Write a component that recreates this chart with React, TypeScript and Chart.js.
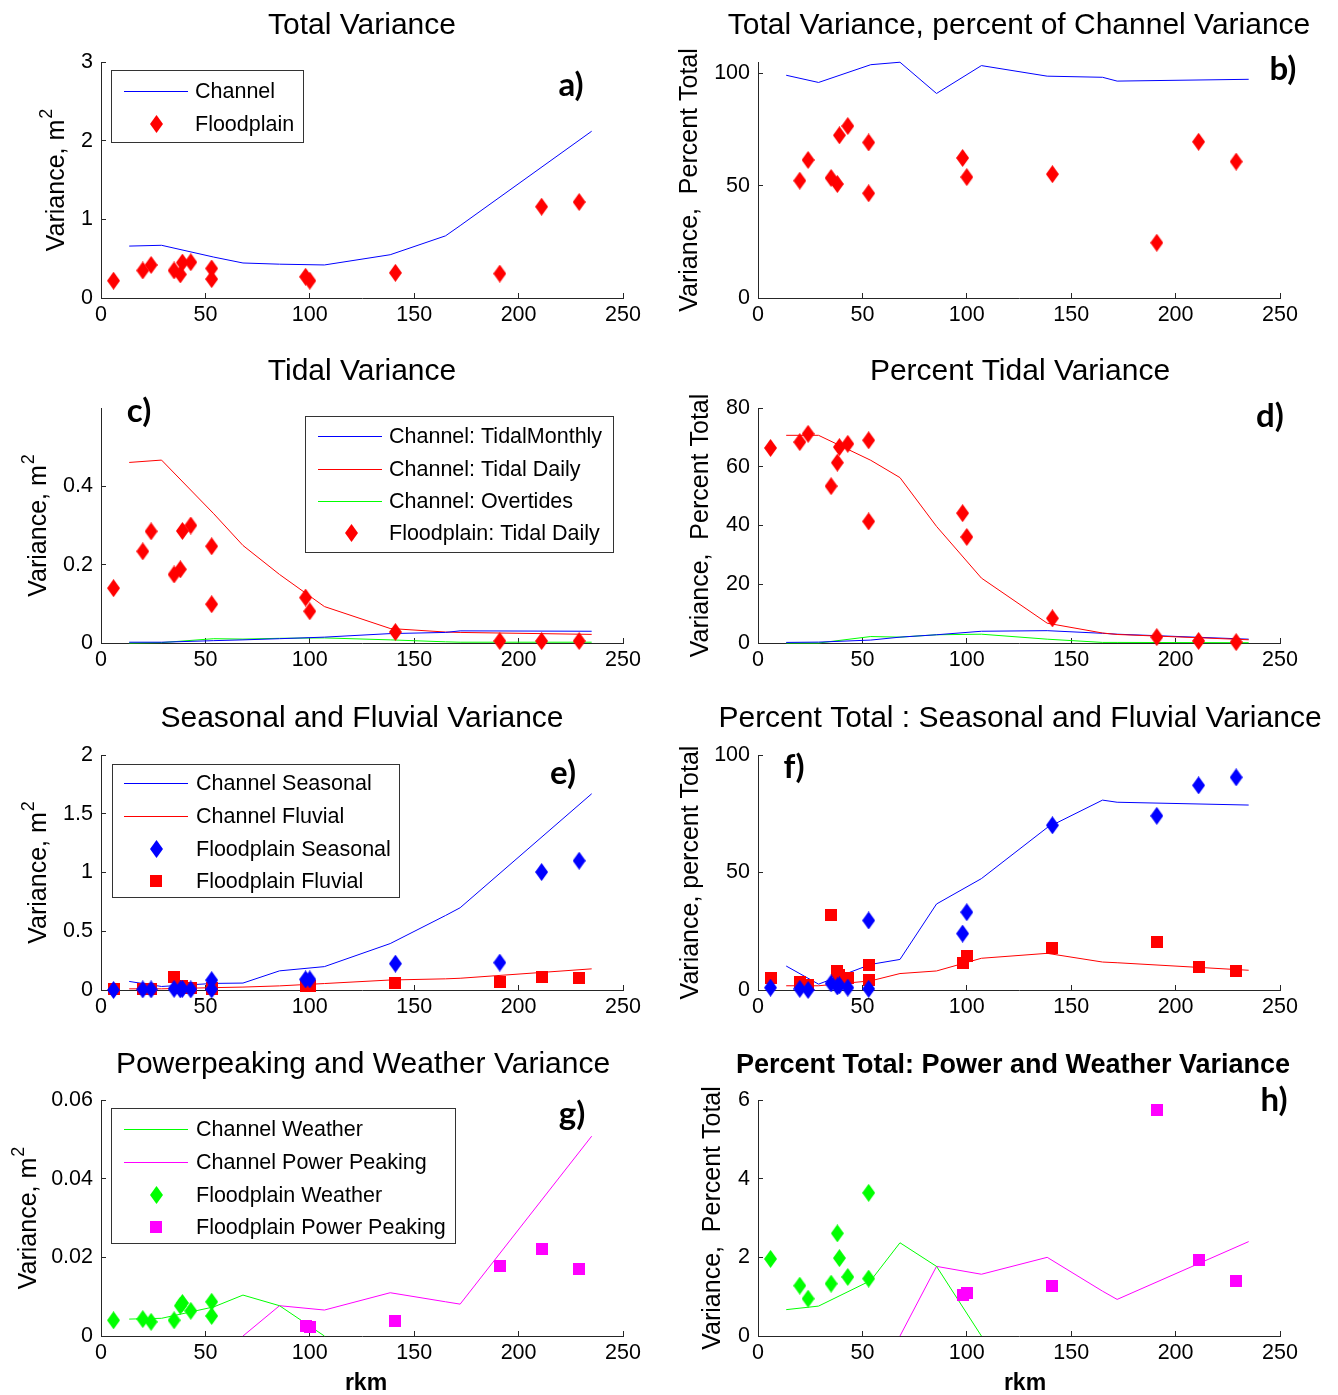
import React, { useEffect, useRef } from 'react';
import { Chart, registerables } from 'chart.js';

Chart.register(...registerables);

// ---------- shared axes ----------
const CH_RKM = [13.5, 29, 54, 68, 85.5, 107, 138.5, 165, 172, 235];
const FP_RKM = [6, 20, 24, 35, 38, 39, 43, 53, 53, 98, 100, 141, 191, 211, 229];
const X_TICKS = [0, 50, 100, 150, 200, 250];

// ---------- a) Total variance ----------
const A_CHANNEL = [0.66, 0.67, 0.52, 0.445, 0.43, 0.42, 0.55, 0.79, 0.92, 2.12];
const A_FLOOD = [0.22, 0.35, 0.42, 0.35, 0.3, 0.45, 0.455, 0.375, 0.24, 0.27, 0.22, 0.32, 0.31, 1.16, 1.22];
const A_Y_TICKS = [0, 1, 2, 3];

// ---------- b) Total variance, percent of channel ----------
const B_CHANNEL = [99.1, 95.9, 103.8, 104.9, 91.0, 103.4, 98.7, 98.2, 96.5, 97.3];
const B_FLOOD = [null, 52.2, 61.4, 53.4, 50.7, 72.4, 76.5, 69.2, 46.6, 62.3, 53.8, 55.1, 24.6, 69.5, 60.7];
const B_Y_TICKS = [0, 50, 100];

// ---------- c) Tidal variance ----------
const C_MONTHLY = [0.002, 0.002, 0.006, 0.008, 0.011, 0.015, 0.024, 0.027, 0.031, 0.03];
const C_DAILY = [0.461, 0.467, 0.33, 0.249, 0.175, 0.093, 0.037, 0.028, 0.027, 0.022];
const C_OVERTIDES = [0.0, 0.001, 0.011, 0.01, 0.012, 0.013, 0.008, 0.003, 0.002, 0.002];
const C_FLOOD = [0.14, 0.234, 0.285, 0.175, 0.188, 0.286, 0.3, 0.247, 0.099, 0.116, 0.081, 0.028, 0.005, 0.005, 0.005];
const C_Y_TICKS = [0, 0.2, 0.4];

// ---------- d) Percent tidal variance ----------
const D_MONTHLY = [0.2, 0.3, 1.0, 2.0, 2.8, 4.0, 4.2, 3.3, 3.0, 1.3];
const D_DAILY = [70.7, 70.7, 62.2, 56.3, 39.7, 22.1, 6.75, 3.4, 2.9, 1.1];
const D_OVERTIDES = [0, 0, 2.2, 2.0, 2.8, 3.0, 1.3, 0.2, 0.2, 0.1];
const D_FLOOD = [66.4, 68.4, 71.2, 53.4, 61.4, 66.7, 67.8, 69.0, 41.4, 44.2, 36.1, 8.4, 2.0, 0.7, 0.3];
const D_Y_TICKS = [0, 20, 40, 60, 80];

// ---------- e) Seasonal and fluvial variance ----------
const E_SEASONAL = [0.073, 0.03, 0.056, 0.059, 0.163, 0.199, 0.395, 0.634, 0.7, 1.67];
const E_FLUVIAL = [0.01, 0.01, 0.02, 0.025, 0.035, 0.055, 0.085, 0.095, 0.1, 0.18];
const E_FP_SEASONAL = [0.0, 0.005, 0.005, 0.01, 0.005, 0.01, 0.005, 0.084, 0.005, 0.09, 0.09, 0.224, 0.233, 1.004, 1.1];
const E_FP_FLUVIAL = [0.01, 0.01, 0.01, 0.107, 0.02, 0.03, 0.02, 0.02, 0.01, 0.03, 0.03, 0.059, 0.065, 0.112, 0.1];
const E_Y_TICKS = [0, 0.5, 1, 1.5, 2];

// ---------- f) Percent total: seasonal and fluvial ----------
const F_SEASONAL = [10.2, 2.5, 10.9, 13.0, 36.6, 47.4, 69.1, 80.8, 79.9, 78.7];
const F_FLUVIAL = [1.8, 1.8, 3.9, 7.0, 8.1, 13.5, 15.6, 11.9, 11.6, 8.4];
const F_FP_SEASONAL = [1.0, 0.5, 0.0, 2.8, 1.5, 2.0, 1.0, 29.6, 0.5, 24.0, 33.1, 70.1, 74.1, 87.1, 90.5];
const F_FP_FLUVIAL = [5.0, 3.6, 2.2, 31.8, 8.1, 6.5, 5.0, 10.7, 4.2, 11.6, 14.4, 17.7, 20.5, 9.8, 8.1];
const F_Y_TICKS = [0, 50, 100];

// ---------- g) Powerpeaking and weather variance ----------
const G_WEATHER = [0.0043, 0.0045, 0.0074, 0.0104, 0.0077, 0.0, null, null, null, null];
const G_POWER = [null, null, null, 0.0, 0.0077, 0.0066, 0.011, 0.0087, 0.0081, 0.0508];
const G_FP_WEATHER = [0.004, 0.0043, 0.0036, 0.004, 0.0077, 0.0084, 0.0064, 0.0087, 0.0051, null, null, null, null, null, null];
const G_FP_POWER = [null, null, null, null, null, null, null, null, null, 0.0025, 0.0024, 0.0038, 0.0177, 0.0221, 0.0171];
const G_Y_TICKS = [0, 0.02, 0.04, 0.06];

// ---------- h) Percent total: power and weather ----------
const H_WEATHER = [0.67, 0.76, 1.41, 2.37, 1.77, 0.0, null, null, null, null];
const H_POWER = [null, null, null, 0.0, 1.77, 1.57, 2.0, 1.14, 0.93, 2.4];
const H_FP_WEATHER = [1.96, 1.28, 0.95, 1.33, 2.61, 1.98, 1.5, 3.64, 1.46, null, null, null, null, null, null];
const H_FP_POWER = [null, null, null, null, null, null, null, null, null, 1.03, 1.09, 1.26, 5.74, 1.94, 1.41];
const H_Y_TICKS = [0, 2, 4, 6];

const BLUE = '#0000ff';
const RED = '#ff0000';
const GREEN = '#00ff00';
const MAGENTA = '#ff00ff';
const AXIS = '#262626';
const FONT = "'Liberation Sans', Arial, Helvetica, sans-serif";
const LETTER_FONT = "Lato, 'Open Sans', 'Liberation Sans', sans-serif";

type Shape = 'diamond' | 'square';
interface Series {
  kind: 'line' | 'marker';
  x: number[];
  y: (number | null)[];
  color: string;
  shape?: Shape;
  label: string;
}
interface Legend {
  box: [number, number, number, number];
  rows: number[];
  lineX: [number, number];
  markerX: number;
  textX: number;
}
interface Panel {
  box: [number, number, number, number];
  area: [number, number, number, number];
  yMax: number;
  yTicks: number[];
  title: string;
  titleX: number;
  titleY: number;
  titleBold?: boolean;
  letter: string;
  letterPos: [number, number];
  yLabel: string;
  ySup?: string;
  yLabelX: number;
  xLabel?: string;
  xLabelPos?: [number, number];
  legend?: Legend;
  series: Series[];
}

const line = (x: number[], y: (number | null)[], color: string, label = ''): Series => ({ kind: 'line', x, y, color, label });
const mark = (x: number[], y: (number | null)[], color: string, shape: Shape, label = ''): Series => ({ kind: 'marker', x, y, color, shape, label });

const LEFT_X = 0, RIGHT_X = 669, COL_W = 669;
const ROWS: [number, number][] = [[0, 345], [345, 347], [692, 348], [1040, 355]];

const PANELS: Panel[] = [
  {
    box: [LEFT_X, ROWS[0][0], COL_W, ROWS[0][1]], area: [101, 62, 623, 298], yMax: 3, yTicks: A_Y_TICKS,
    title: 'Total Variance', titleX: 362, titleY: 26, letter: 'a)', letterPos: [571, 85],
    yLabel: 'Variance, m', ySup: '2', yLabelX: 57,
    legend: { box: [111, 70, 303, 142], rows: [91, 124], lineX: [124, 188], markerX: 156, textX: 195 },
    series: [line(CH_RKM, A_CHANNEL, BLUE, 'Channel'), mark(FP_RKM, A_FLOOD, RED, 'diamond', 'Floodplain')],
  },
  {
    box: [RIGHT_X, ROWS[0][0], COL_W, ROWS[0][1]], area: [758, 62, 1280, 298], yMax: 105, yTicks: B_Y_TICKS,
    title: 'Total Variance, percent of Channel Variance', titleX: 1019, titleY: 26, letter: 'b)', letterPos: [1283, 69],
    yLabel: 'Variance,  Percent Total', yLabelX: 690,
    series: [line(CH_RKM, B_CHANNEL, BLUE), mark(FP_RKM, B_FLOOD, RED, 'diamond')],
  },
  {
    box: [LEFT_X, ROWS[1][0], COL_W, ROWS[1][1]], area: [101, 408, 623, 643], yMax: 0.6, yTicks: C_Y_TICKS,
    title: 'Tidal Variance', titleX: 362, titleY: 372, letter: 'c)', letterPos: [139, 411],
    yLabel: 'Variance, m', ySup: '2', yLabelX: 39,
    legend: { box: [305, 416, 613, 552], rows: [436, 469, 501, 533], lineX: [318, 382], markerX: 351, textX: 389 },
    series: [
      line(CH_RKM, C_MONTHLY, BLUE, 'Channel: TidalMonthly'),
      line(CH_RKM, C_DAILY, RED, 'Channel: Tidal Daily'),
      line(CH_RKM, C_OVERTIDES, GREEN, 'Channel: Overtides'),
      mark(FP_RKM, C_FLOOD, RED, 'diamond', 'Floodplain: Tidal Daily'),
    ],
  },
  {
    box: [RIGHT_X, ROWS[1][0], COL_W, ROWS[1][1]], area: [758, 408, 1280, 643], yMax: 80, yTicks: D_Y_TICKS,
    title: 'Percent Tidal Variance', titleX: 1020, titleY: 372, letter: 'd)', letterPos: [1270, 416],
    yLabel: 'Variance,  Percent Total', yLabelX: 701,
    series: [
      line(CH_RKM, D_DAILY, RED),
      line(CH_RKM, D_MONTHLY, BLUE),
      line(CH_RKM, D_OVERTIDES, GREEN),
      mark(FP_RKM, D_FLOOD, RED, 'diamond'),
    ],
  },
  {
    box: [LEFT_X, ROWS[2][0], COL_W, ROWS[2][1]], area: [101, 755, 623, 990], yMax: 2, yTicks: E_Y_TICKS,
    title: 'Seasonal and Fluvial Variance', titleX: 362, titleY: 719, letter: 'e)', letterPos: [563, 773],
    yLabel: 'Variance, m', ySup: '2', yLabelX: 39,
    legend: { box: [112, 764, 399, 897], rows: [783, 816, 849, 881], lineX: [124, 188], markerX: 156, textX: 196 },
    series: [
      line(CH_RKM, E_SEASONAL, BLUE, 'Channel Seasonal'),
      line(CH_RKM, E_FLUVIAL, RED, 'Channel Fluvial'),
      mark(FP_RKM, E_FP_SEASONAL, BLUE, 'diamond', 'Floodplain Seasonal'),
      mark(FP_RKM, E_FP_FLUVIAL, RED, 'square', 'Floodplain Fluvial'),
    ],
  },
  {
    box: [RIGHT_X, ROWS[2][0], COL_W, ROWS[2][1]], area: [758, 755, 1280, 990], yMax: 100, yTicks: F_Y_TICKS,
    title: 'Percent Total : Seasonal and Fluvial Variance', titleX: 1020, titleY: 719, letter: 'f)', letterPos: [794, 767],
    yLabel: 'Variance, percent Total', yLabelX: 691,
    series: [
      line(CH_RKM, F_SEASONAL, BLUE),
      line(CH_RKM, F_FLUVIAL, RED),
      mark(FP_RKM, F_FP_SEASONAL, BLUE, 'diamond'),
      mark(FP_RKM, F_FP_FLUVIAL, RED, 'square'),
    ],
  },
  {
    box: [LEFT_X, ROWS[3][0], COL_W, ROWS[3][1]], area: [101, 1100, 623, 1336], yMax: 0.06, yTicks: G_Y_TICKS,
    title: 'Powerpeaking and Weather Variance', titleX: 363, titleY: 1065, letter: 'g)', letterPos: [572, 1114],
    yLabel: 'Variance, m', ySup: '2', yLabelX: 29, xLabel: 'rkm', xLabelPos: [366, 1384],
    legend: { box: [111, 1108, 455, 1243], rows: [1129, 1162, 1195, 1227], lineX: [124, 188], markerX: 156, textX: 196 },
    series: [
      line(CH_RKM, G_WEATHER, GREEN, 'Channel Weather'),
      line(CH_RKM, G_POWER, MAGENTA, 'Channel Power Peaking'),
      mark(FP_RKM, G_FP_WEATHER, GREEN, 'diamond', 'Floodplain Weather'),
      mark(FP_RKM, G_FP_POWER, MAGENTA, 'square', 'Floodplain Power Peaking'),
    ],
  },
  {
    box: [RIGHT_X, ROWS[3][0], COL_W, ROWS[3][1]], area: [758, 1100, 1280, 1336], yMax: 6, yTicks: H_Y_TICKS,
    title: 'Percent Total: Power and Weather Variance', titleX: 1013, titleY: 1066, titleBold: true, letter: 'h)', letterPos: [1274, 1100],
    yLabel: 'Variance,  Percent Total', yLabelX: 713, xLabel: 'rkm', xLabelPos: [1025, 1384],
    series: [
      line(CH_RKM, H_WEATHER, GREEN),
      line(CH_RKM, H_POWER, MAGENTA),
      mark(FP_RKM, H_FP_WEATHER, GREEN, 'diamond'),
      mark(FP_RKM, H_FP_POWER, MAGENTA, 'square'),
    ],
  },
];

const markerCache: Record<string, HTMLCanvasElement> = {};
function markerImage(shape: Shape, color: string): HTMLCanvasElement {
  const key = shape + color;
  if (markerCache[key]) return markerCache[key];
  const c = document.createElement('canvas');
  const ctx = c.getContext('2d')!;
  if (shape === 'diamond') {
    const w = 13, h = 18;
    c.width = w; c.height = h;
    ctx.fillStyle = color;
    ctx.beginPath();
    ctx.moveTo(w / 2, 0);
    ctx.lineTo(w, h / 2);
    ctx.lineTo(w / 2, h);
    ctx.lineTo(0, h / 2);
    ctx.closePath();
    ctx.fill();
  } else {
    const s = 12;
    c.width = s; c.height = s;
    ctx.fillStyle = color;
    ctx.fillRect(0, 0, s, s);
  }
  markerCache[key] = c;
  return c;
}

const YW = 60;
const XH = 30;

function decorPlugin(p: Panel) {
  return {
    id: 'decor',
    afterDraw(chart: any) {
      const ctx: CanvasRenderingContext2D = chart.ctx;
      const [bx, by] = p.box;
      ctx.save();
      ctx.translate(-bx, -by);
      ctx.fillStyle = '#000';
      // title
      ctx.textAlign = 'center';
      ctx.textBaseline = 'middle';
      ctx.font = p.titleBold ? `bold 27px ${FONT}` : `30px ${FONT}`;
      ctx.fillText(p.title, p.titleX, p.titleY);
      // panel letter
      ctx.font = `bold 33px ${LETTER_FONT}`;
      ctx.fillText(p.letter, p.letterPos[0], p.letterPos[1]);
      // y label (rotated, with optional superscript)
      const cy = (p.area[1] + p.area[3]) / 2;
      ctx.save();
      ctx.translate(p.yLabelX, cy);
      ctx.rotate(-Math.PI / 2);
      ctx.font = `25px ${FONT}`;
      const wMain = ctx.measureText(p.yLabel).width;
      let wSup = 0;
      if (p.ySup) {
        ctx.font = `18px ${FONT}`;
        wSup = ctx.measureText(p.ySup).width + 1;
      }
      const start = -(wMain + wSup) / 2;
      ctx.textAlign = 'left';
      ctx.font = `25px ${FONT}`;
      ctx.fillText(p.yLabel, start, 0);
      if (p.ySup) {
        ctx.font = `18px ${FONT}`;
        ctx.fillText(p.ySup, start + wMain + 1, -10);
      }
      ctx.restore();
      // x label
      if (p.xLabel && p.xLabelPos) {
        ctx.textAlign = 'center';
        ctx.font = `bold 23px ${FONT}`;
        ctx.fillText(p.xLabel, p.xLabelPos[0], p.xLabelPos[1]);
      }
      // legend
      if (p.legend) {
        const lg = p.legend;
        const [l, t, r, b] = lg.box;
        ctx.fillStyle = '#fff';
        ctx.fillRect(l, t, r - l, b - t);
        ctx.strokeStyle = '#333';
        ctx.lineWidth = 1;
        ctx.strokeRect(l + 0.5, t + 0.5, r - l, b - t);
        p.series.forEach((s, i) => {
          const y = lg.rows[i];
          if (y === undefined) return;
          if (s.kind === 'line') {
            ctx.strokeStyle = s.color;
            ctx.lineWidth = 1;
            ctx.beginPath();
            ctx.moveTo(lg.lineX[0], y + 0.5);
            ctx.lineTo(lg.lineX[1], y + 0.5);
            ctx.stroke();
          } else {
            const img = markerImage(s.shape || 'diamond', s.color);
            ctx.drawImage(img, Math.round(lg.markerX - img.width / 2), Math.round(y - img.height / 2));
          }
          ctx.fillStyle = '#000';
          ctx.textAlign = 'left';
          ctx.textBaseline = 'middle';
          ctx.font = `21.5px ${FONT}`;
          ctx.fillText(s.label, lg.textX, y + 1);
        });
      }
      ctx.restore();
    },
  };
}

function PanelChart({ p }: { p: Panel }) {
  const ref = useRef<HTMLCanvasElement>(null);
  useEffect(() => {
    const [bx, by, bw, bh] = p.box;
    const [al, at, ar, ab] = p.area;
    const axisCommon = {
      grid: { display: true, drawOnChartArea: false, drawTicks: true, tickLength: -5, color: AXIS, lineWidth: 1 },
      border: { display: true, color: AXIS, width: 1 },
    };
    const chart = new Chart(ref.current as HTMLCanvasElement, {
      type: 'scatter',
      data: {
        datasets: p.series.map((s) => ({
          label: s.label,
          data: s.x.map((x, i) => ({ x, y: s.y[i] })) as any,
          showLine: s.kind === 'line',
          borderColor: s.color,
          backgroundColor: s.color,
          borderWidth: 1,
          pointRadius: s.kind === 'line' ? 0 : 2,
          pointHoverRadius: 0,
          pointStyle: s.kind === 'line' ? 'circle' : (markerImage(s.shape || 'diamond', s.color) as any),
          clip: false as any,
          spanGaps: false,
          order: s.kind === 'line' ? 2 : 1,
        })),
      },
      options: {
        responsive: false,
        animation: false,
        events: [],
        layout: {
          padding: { left: al - bx - YW, top: at - by, right: bx + bw - ar, bottom: by + bh - ab - XH },
        },
        plugins: { legend: { display: false }, title: { display: false }, tooltip: { enabled: false } },
        scales: {
          x: {
            type: 'linear',
            min: 0,
            max: 250,
            afterBuildTicks: (s: any) => { s.ticks = X_TICKS.map((v) => ({ value: v })); },
            afterFit: (s: any) => { s.height = XH; },
            ticks: { font: { family: FONT, size: 21.5 }, color: '#000', padding: 9, maxRotation: 0, callback: (v: any) => String(v) },
            ...axisCommon,
          },
          y: {
            type: 'linear',
            min: 0,
            max: p.yMax,
            afterBuildTicks: (s: any) => { s.ticks = p.yTicks.map((v) => ({ value: v })); },
            afterFit: (s: any) => { s.width = YW; },
            ticks: { font: { family: FONT, size: 21.5 }, color: '#000', padding: 13, callback: (v: any) => String(v) },
            ...axisCommon,
          },
        },
      } as any,
      plugins: [decorPlugin(p)],
    });
    return () => chart.destroy();
  }, [p]);
  const [bx, by, bw, bh] = p.box;
  return (
    <canvas
      ref={ref}
      width={bw}
      height={bh}
      style={{ position: 'absolute', left: bx, top: by, width: bw, height: bh, display: 'block' }}
    />
  );
}

export default function App() {
  return (
    <div style={{ position: 'absolute', left: 0, top: 0, width: 1338, height: 1395, background: '#fff', overflow: 'hidden' }}>
      {PANELS.map((p, i) => (
        <PanelChart key={i} p={p} />
      ))}
    </div>
  );
}
